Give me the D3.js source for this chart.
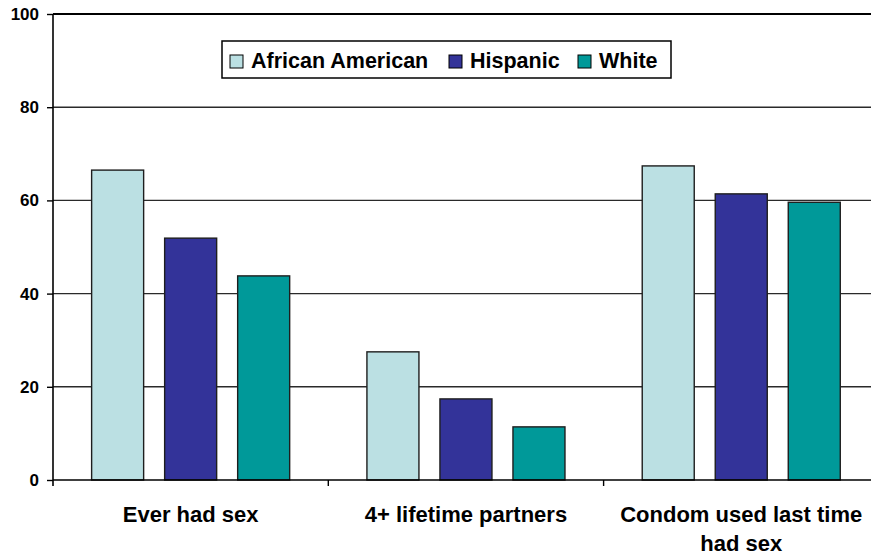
<!DOCTYPE html>
<html>
<head>
<meta charset="utf-8">
<script src="https://cdn.jsdelivr.net/npm/d3@7"></script>
<style>
  html, body { margin: 0; padding: 0; background: #fff; }
  svg { display: block; font-family: "Liberation Sans", Arial, sans-serif; font-weight: bold; }
</style>
</head>
<body>
<svg id="chart" width="871" height="556"></svg>
<script>
// Share of students by race/ethnicity for each behaviour (percent)
const categories = ["Ever had sex", "4+ lifetime partners", "Condom used last time had sex"];
const categoryLines = [["Ever had sex"], ["4+ lifetime partners"], ["Condom used last time", "had sex"]];
const seriesNames = ["African American", "Hispanic", "White"];
const africanAmerican = [66.5, 27.5, 67.4];
const hispanic = [51.9, 17.4, 61.4];
const white = [43.8, 11.4, 59.6];
const seriesColors = ["#BBE0E3", "#333399", "#009999"];
const yTicks = [0, 20, 40, 60, 80, 100];

const seriesValues = [africanAmerican, hispanic, white];

const svg = d3.select("#chart");
const plotLeft = 53, plotTop = 14, plotBottom = 480, plotRight = 53 + 275.3 * 3;

const y = d3.scaleLinear().domain([0, 100]).range([plotBottom, plotTop]);
const x0 = d3.scaleBand().domain(categories).range([plotLeft, plotRight]);
const x1 = d3.scaleBand().domain(seriesNames).range([0, x0.bandwidth()])
  .paddingInner(21 / 73).paddingOuter(0.529);
const color = d3.scaleOrdinal().domain(seriesNames).range(seriesColors);

// Horizontal gridlines
svg.append("g").selectAll("line")
  .data(yTicks.filter(d => d > 0))
  .join("line")
  .attr("x1", plotLeft).attr("x2", plotRight)
  .attr("y1", d => y(d)).attr("y2", d => y(d))
  .attr("stroke", d => d === 100 ? "#000" : "#2a2a2a")
  .attr("stroke-width", d => d === 100 ? 2 : 1.4);

// Bars
const groups = svg.append("g").selectAll("g")
  .data(categories)
  .join("g")
  .attr("transform", d => `translate(${x0(d)},0)`);

groups.selectAll("rect")
  .data((c, i) => seriesNames.map((s, j) => ({ s, v: seriesValues[j][i] })))
  .join("rect")
  .attr("x", d => x1(d.s))
  .attr("width", x1.bandwidth())
  .attr("y", d => y(d.v))
  .attr("height", d => y(0) - y(d.v))
  .attr("fill", d => color(d.s))
  .attr("stroke", "#1e1e1e")
  .attr("stroke-width", 1.4);

// Y axis
const yAxis = svg.append("g")
  .attr("transform", `translate(${plotLeft},0)`)
  .call(d3.axisLeft(y).tickValues(yTicks).tickSize(6).tickPadding(8));
yAxis.select(".domain").attr("stroke", "#000").attr("stroke-width", 1.6)
  .attr("d", `M0,${plotTop}V${plotBottom + 6}`);
yAxis.selectAll(".tick line").attr("stroke", "#000").attr("stroke-width", 1.4);
yAxis.selectAll(".tick text")
  .attr("font-size", "17px").attr("font-weight", "bold").attr("fill", "#000")
  .attr("font-family", "'Liberation Sans', Arial, sans-serif");

// X axis
const xAxis = svg.append("g")
  .attr("transform", `translate(0,${plotBottom})`)
  .call(d3.axisBottom(x0).tickSize(0).tickFormat(""));
xAxis.select(".domain").attr("stroke", "#000").attr("stroke-width", 1.6)
  .attr("d", `M${plotLeft},0H${plotRight}`);
xAxis.selectAll(".tick").remove();

// Category separators on the x axis
svg.append("g").selectAll("line")
  .data(categories)
  .join("line")
  .attr("x1", d => x0(d) + x0.bandwidth()).attr("x2", d => x0(d) + x0.bandwidth())
  .attr("y1", plotBottom).attr("y2", plotBottom + 6)
  .attr("stroke", "#000").attr("stroke-width", 1.4);

// Category labels
svg.append("g").selectAll("text")
  .data(categories)
  .join("text")
  .attr("x", d => x0(d) + x0.bandwidth() / 2)
  .attr("y", 522)
  .attr("text-anchor", "middle")
  .attr("font-size", "22px")
  .attr("fill", "#000")
  .selectAll("tspan")
  .data((d, i) => categoryLines[i])
  .join("tspan")
  .attr("x", function () { return d3.select(this.parentNode).attr("x"); })
  .attr("dy", (d, i) => i === 0 ? 0 : 29)
  .text(d => d);

// Legend
const legend = svg.append("g");
legend.append("rect")
  .attr("x", 222).attr("y", 41).attr("width", 449).attr("height", 37)
  .attr("fill", "#fff").attr("stroke", "#000").attr("stroke-width", 1.5);
const legendX = [230, 449, 578];
const items = legend.selectAll("g.item")
  .data(seriesNames)
  .join("g").attr("class", "item")
  .attr("transform", (d, i) => `translate(${legendX[i]},0)`);
items.append("rect")
  .attr("x", 0).attr("y", 55).attr("width", 13).attr("height", 13)
  .attr("fill", d => color(d)).attr("stroke", "#000").attr("stroke-width", 1);
items.append("text")
  .attr("x", 21).attr("y", 68)
  .attr("font-size", "21.5px").attr("fill", "#000")
  .text(d => d);
</script>
</body>
</html>
